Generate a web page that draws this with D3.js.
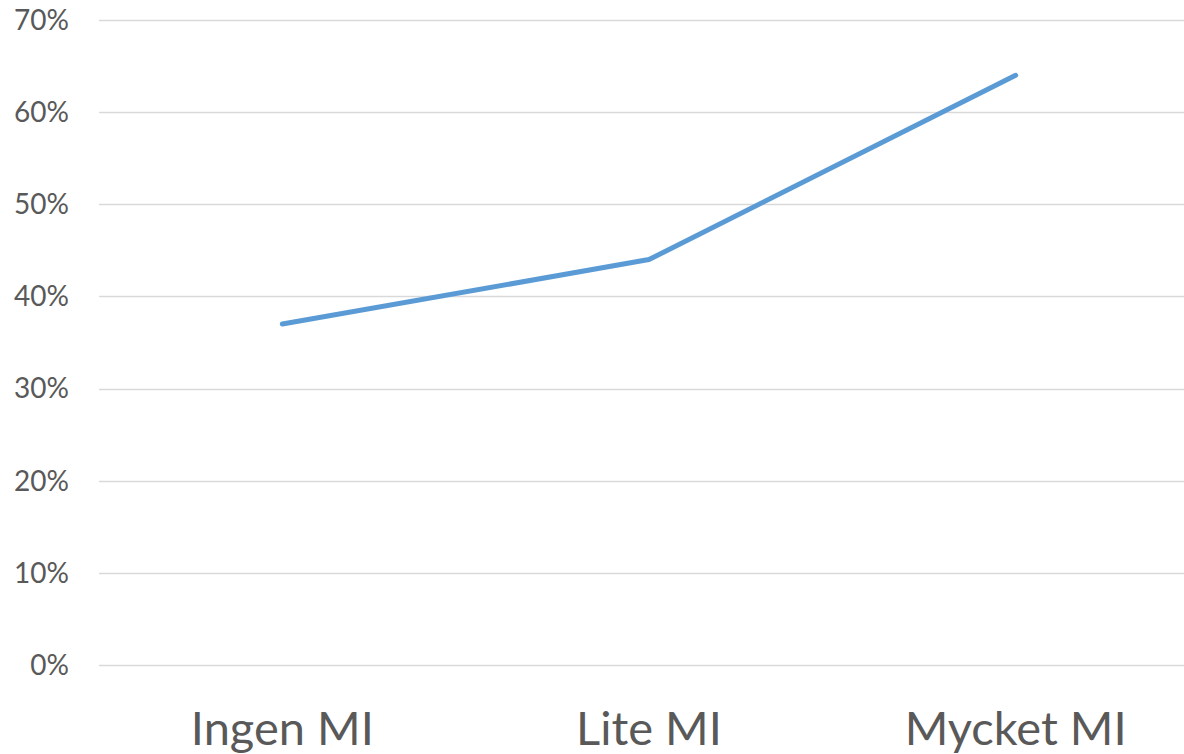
<!DOCTYPE html>
<html>
<head>
<meta charset="utf-8">
<script src="https://cdn.jsdelivr.net/npm/d3@7"></script>
<style>
  body { margin: 0; background: #fff; }
  svg { display: block; }
</style>
</head>
<body>
<script>
const categories = ["Ingen MI", "Lite MI", "Mycket MI"];
const values = [0.37, 0.44, 0.64];
const yTicks = [0, 0.1, 0.2, 0.3, 0.4, 0.5, 0.6, 0.7];

const w = 1184;
const h = 754;

const xScale = d3.scalePoint()
  .domain(categories)
  .range([99, 1199])
  .padding(0.5);

const yScale = d3.scaleLinear()
  .domain([0, 0.7])
  .range([665, 20]);

const svg = d3.select("body")
  .append("svg")
  .attr("width", w)
  .attr("height", h);

// gridlines
svg.append("g")
  .selectAll("line")
  .data(yTicks)
  .enter()
  .append("line")
  .attr("x1", 99)
  .attr("x2", 1199)
  .attr("y1", d => Math.round(yScale(d)) + 0.5)
  .attr("y2", d => Math.round(yScale(d)) + 0.5)
  .attr("stroke", "#d9d9d9")
  .attr("stroke-width", 1.5);

// y tick labels
svg.append("g")
  .selectAll("text")
  .data(yTicks)
  .enter()
  .append("text")
  .attr("x", 69)
  .attr("y", d => yScale(d))
  .attr("dy", "0.35em")
  .attr("text-anchor", "end")
  .attr("font-family", "Lato, 'Open Sans', sans-serif")
  .attr("font-size", 28)
  .attr("fill", "#595959")
  .text(d => d3.format(".0%")(d));

// x labels
svg.append("g")
  .selectAll("text")
  .data(categories)
  .enter()
  .append("text")
  .attr("x", d => xScale(d))
  .attr("y", 745)
  .attr("text-anchor", "middle")
  .attr("font-family", "Lato, 'Open Sans', sans-serif")
  .attr("font-size", 47)
  .attr("fill", "#595959")
  .text(d => d);

// line
const line = d3.line()
  .x((d, i) => xScale(categories[i]))
  .y(d => yScale(d));

svg.append("path")
  .datum(values)
  .attr("d", line)
  .attr("fill", "none")
  .attr("stroke", "#5b9bd5")
  .attr("stroke-width", 5)
  .attr("stroke-linecap", "round")
  .attr("stroke-linejoin", "round");
</script>
</body>
</html>
